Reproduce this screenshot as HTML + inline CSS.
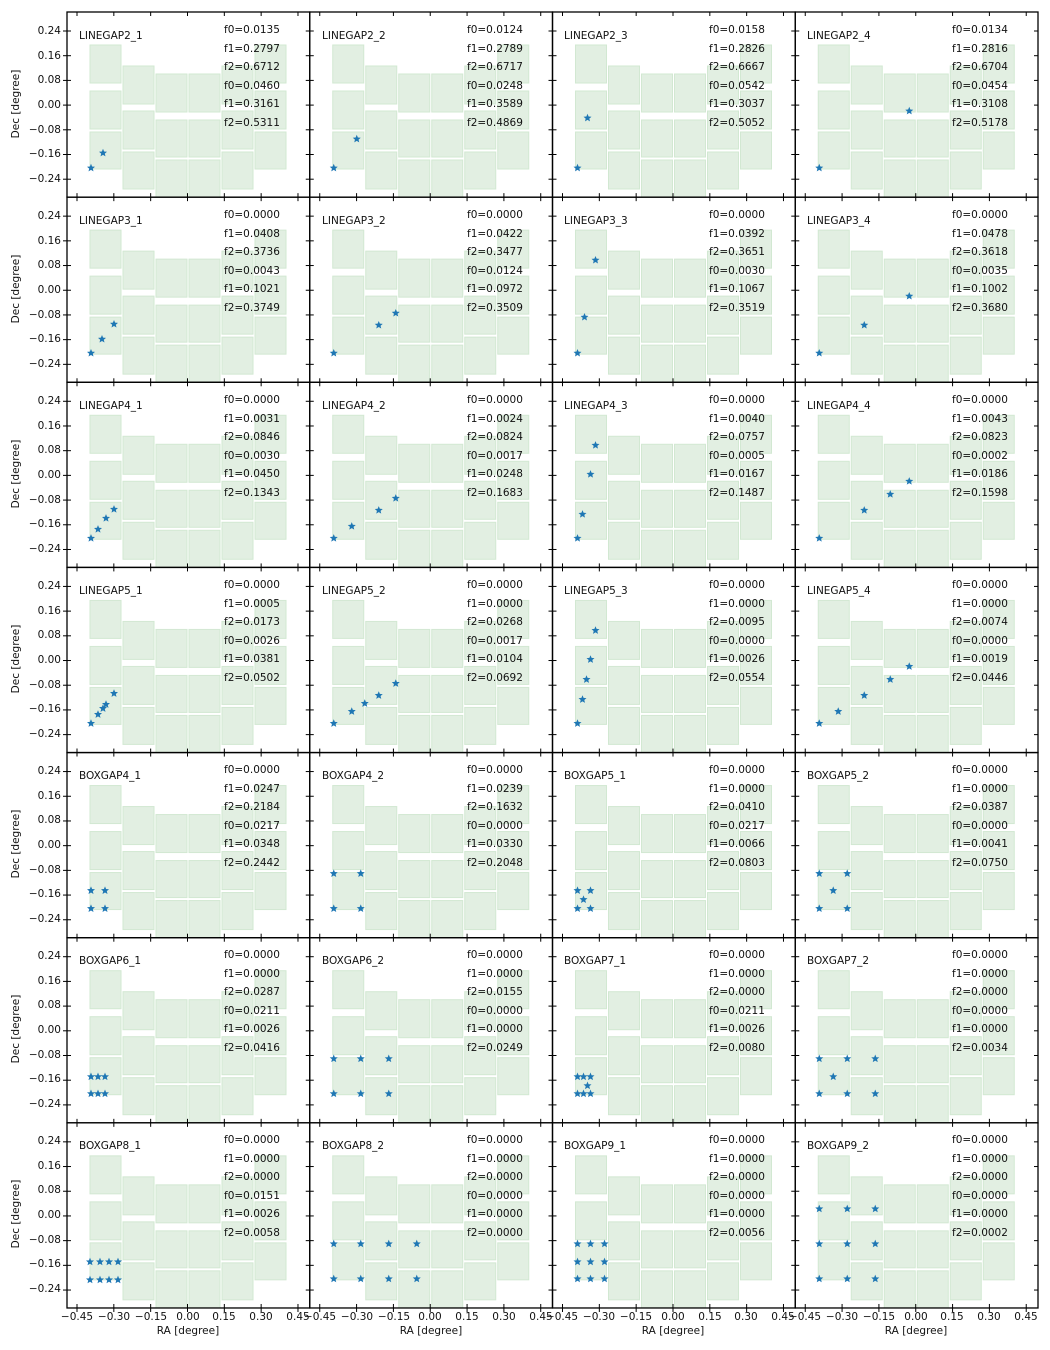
<!DOCTYPE html>
<html><head><meta charset="utf-8"><style>
body{margin:0;background:#fff;}
#w{position:relative;width:1050px;height:1350px;overflow:hidden;font-family:"DejaVu Sans","Liberation Sans",sans-serif;font-size:10.5px;color:#111;}
svg{position:absolute;left:0;top:0;}
.p{position:absolute;width:243px;height:185px;}
.n{position:absolute;left:12px;top:18px;white-space:nowrap;}
.f{position:absolute;left:157px;top:9px;line-height:18.6px;white-space:nowrap;}
.yl{position:absolute;right:989px;width:50px;text-align:right;margin-top:1px;}
.xl{position:absolute;top:1311px;width:50px;text-align:center;}
.dec{position:absolute;left:16px;transform:translate(-50%,-50%) rotate(-90deg);white-space:nowrap;}
.ra{position:absolute;top:1325px;width:120px;text-align:center;}
</style></head><body><div id="w">
<svg id="s" width="1050" height="1350"></svg>

<div class="p" style="left:67px;top:12px"><span class="n">LINEGAP2_1</span><div class="f">f0=0.0135<br>f1=0.2797<br>f2=0.6712<br>f0=0.0460<br>f1=0.3161<br>f2=0.5311</div></div>
<div class="p" style="left:310px;top:12px"><span class="n">LINEGAP2_2</span><div class="f">f0=0.0124<br>f1=0.2789<br>f2=0.6717<br>f0=0.0248<br>f1=0.3589<br>f2=0.4869</div></div>
<div class="p" style="left:552px;top:12px"><span class="n">LINEGAP2_3</span><div class="f">f0=0.0158<br>f1=0.2826<br>f2=0.6667<br>f0=0.0542<br>f1=0.3037<br>f2=0.5052</div></div>
<div class="p" style="left:795px;top:12px"><span class="n">LINEGAP2_4</span><div class="f">f0=0.0134<br>f1=0.2816<br>f2=0.6704<br>f0=0.0454<br>f1=0.3108<br>f2=0.5178</div></div>

<div class="p" style="left:67px;top:197px"><span class="n">LINEGAP3_1</span><div class="f">f0=0.0000<br>f1=0.0408<br>f2=0.3736<br>f0=0.0043<br>f1=0.1021<br>f2=0.3749</div></div>
<div class="p" style="left:310px;top:197px"><span class="n">LINEGAP3_2</span><div class="f">f0=0.0000<br>f1=0.0422<br>f2=0.3477<br>f0=0.0124<br>f1=0.0972<br>f2=0.3509</div></div>
<div class="p" style="left:552px;top:197px"><span class="n">LINEGAP3_3</span><div class="f">f0=0.0000<br>f1=0.0392<br>f2=0.3651<br>f0=0.0030<br>f1=0.1067<br>f2=0.3519</div></div>
<div class="p" style="left:795px;top:197px"><span class="n">LINEGAP3_4</span><div class="f">f0=0.0000<br>f1=0.0478<br>f2=0.3618<br>f0=0.0035<br>f1=0.1002<br>f2=0.3680</div></div>

<div class="p" style="left:67px;top:382px"><span class="n">LINEGAP4_1</span><div class="f">f0=0.0000<br>f1=0.0031<br>f2=0.0846<br>f0=0.0030<br>f1=0.0450<br>f2=0.1343</div></div>
<div class="p" style="left:310px;top:382px"><span class="n">LINEGAP4_2</span><div class="f">f0=0.0000<br>f1=0.0024<br>f2=0.0824<br>f0=0.0017<br>f1=0.0248<br>f2=0.1683</div></div>
<div class="p" style="left:552px;top:382px"><span class="n">LINEGAP4_3</span><div class="f">f0=0.0000<br>f1=0.0040<br>f2=0.0757<br>f0=0.0005<br>f1=0.0167<br>f2=0.1487</div></div>
<div class="p" style="left:795px;top:382px"><span class="n">LINEGAP4_4</span><div class="f">f0=0.0000<br>f1=0.0043<br>f2=0.0823<br>f0=0.0002<br>f1=0.0186<br>f2=0.1598</div></div>

<div class="p" style="left:67px;top:567px"><span class="n">LINEGAP5_1</span><div class="f">f0=0.0000<br>f1=0.0005<br>f2=0.0173<br>f0=0.0026<br>f1=0.0381<br>f2=0.0502</div></div>
<div class="p" style="left:310px;top:567px"><span class="n">LINEGAP5_2</span><div class="f">f0=0.0000<br>f1=0.0000<br>f2=0.0268<br>f0=0.0017<br>f1=0.0104<br>f2=0.0692</div></div>
<div class="p" style="left:552px;top:567px"><span class="n">LINEGAP5_3</span><div class="f">f0=0.0000<br>f1=0.0000<br>f2=0.0095<br>f0=0.0000<br>f1=0.0026<br>f2=0.0554</div></div>
<div class="p" style="left:795px;top:567px"><span class="n">LINEGAP5_4</span><div class="f">f0=0.0000<br>f1=0.0000<br>f2=0.0074<br>f0=0.0000<br>f1=0.0019<br>f2=0.0446</div></div>

<div class="p" style="left:67px;top:752px"><span class="n">BOXGAP4_1</span><div class="f">f0=0.0000<br>f1=0.0247<br>f2=0.2184<br>f0=0.0217<br>f1=0.0348<br>f2=0.2442</div></div>
<div class="p" style="left:310px;top:752px"><span class="n">BOXGAP4_2</span><div class="f">f0=0.0000<br>f1=0.0239<br>f2=0.1632<br>f0=0.0000<br>f1=0.0330<br>f2=0.2048</div></div>
<div class="p" style="left:552px;top:752px"><span class="n">BOXGAP5_1</span><div class="f">f0=0.0000<br>f1=0.0000<br>f2=0.0410<br>f0=0.0217<br>f1=0.0066<br>f2=0.0803</div></div>
<div class="p" style="left:795px;top:752px"><span class="n">BOXGAP5_2</span><div class="f">f0=0.0000<br>f1=0.0000<br>f2=0.0387<br>f0=0.0000<br>f1=0.0041<br>f2=0.0750</div></div>

<div class="p" style="left:67px;top:937px"><span class="n">BOXGAP6_1</span><div class="f">f0=0.0000<br>f1=0.0000<br>f2=0.0287<br>f0=0.0211<br>f1=0.0026<br>f2=0.0416</div></div>
<div class="p" style="left:310px;top:937px"><span class="n">BOXGAP6_2</span><div class="f">f0=0.0000<br>f1=0.0000<br>f2=0.0155<br>f0=0.0000<br>f1=0.0000<br>f2=0.0249</div></div>
<div class="p" style="left:552px;top:937px"><span class="n">BOXGAP7_1</span><div class="f">f0=0.0000<br>f1=0.0000<br>f2=0.0000<br>f0=0.0211<br>f1=0.0026<br>f2=0.0080</div></div>
<div class="p" style="left:795px;top:937px"><span class="n">BOXGAP7_2</span><div class="f">f0=0.0000<br>f1=0.0000<br>f2=0.0000<br>f0=0.0000<br>f1=0.0000<br>f2=0.0034</div></div>

<div class="p" style="left:67px;top:1122px"><span class="n">BOXGAP8_1</span><div class="f">f0=0.0000<br>f1=0.0000<br>f2=0.0000<br>f0=0.0151<br>f1=0.0026<br>f2=0.0058</div></div>
<div class="p" style="left:310px;top:1122px"><span class="n">BOXGAP8_2</span><div class="f">f0=0.0000<br>f1=0.0000<br>f2=0.0000<br>f0=0.0000<br>f1=0.0000<br>f2=0.0000</div></div>
<div class="p" style="left:552px;top:1122px"><span class="n">BOXGAP9_1</span><div class="f">f0=0.0000<br>f1=0.0000<br>f2=0.0000<br>f0=0.0000<br>f1=0.0000<br>f2=0.0056</div></div>
<div class="p" style="left:795px;top:1122px"><span class="n">BOXGAP9_2</span><div class="f">f0=0.0000<br>f1=0.0000<br>f2=0.0000<br>f0=0.0000<br>f1=0.0000<br>f2=0.0002</div></div>

<!-- y labels -->
<div class="yl" style="top:24px">0.24</div><div class="yl" style="top:49px">0.16</div><div class="yl" style="top:73px">0.08</div><div class="yl" style="top:98px">0.00</div><div class="yl" style="top:123px">−0.08</div><div class="yl" style="top:147px">−0.16</div><div class="yl" style="top:172px">−0.24</div>
<div class="yl" style="top:209px">0.24</div><div class="yl" style="top:234px">0.16</div><div class="yl" style="top:258px">0.08</div><div class="yl" style="top:283px">0.00</div><div class="yl" style="top:308px">−0.08</div><div class="yl" style="top:332px">−0.16</div><div class="yl" style="top:357px">−0.24</div>
<div class="yl" style="top:394px">0.24</div><div class="yl" style="top:419px">0.16</div><div class="yl" style="top:443px">0.08</div><div class="yl" style="top:468px">0.00</div><div class="yl" style="top:493px">−0.08</div><div class="yl" style="top:517px">−0.16</div><div class="yl" style="top:542px">−0.24</div>
<div class="yl" style="top:579px">0.24</div><div class="yl" style="top:604px">0.16</div><div class="yl" style="top:628px">0.08</div><div class="yl" style="top:653px">0.00</div><div class="yl" style="top:678px">−0.08</div><div class="yl" style="top:702px">−0.16</div><div class="yl" style="top:727px">−0.24</div>
<div class="yl" style="top:764px">0.24</div><div class="yl" style="top:789px">0.16</div><div class="yl" style="top:813px">0.08</div><div class="yl" style="top:838px">0.00</div><div class="yl" style="top:863px">−0.08</div><div class="yl" style="top:887px">−0.16</div><div class="yl" style="top:912px">−0.24</div>
<div class="yl" style="top:949px">0.24</div><div class="yl" style="top:974px">0.16</div><div class="yl" style="top:998px">0.08</div><div class="yl" style="top:1023px">0.00</div><div class="yl" style="top:1048px">−0.08</div><div class="yl" style="top:1072px">−0.16</div><div class="yl" style="top:1097px">−0.24</div>
<div class="yl" style="top:1134px">0.24</div><div class="yl" style="top:1159px">0.16</div><div class="yl" style="top:1183px">0.08</div><div class="yl" style="top:1208px">0.00</div><div class="yl" style="top:1233px">−0.08</div><div class="yl" style="top:1257px">−0.16</div><div class="yl" style="top:1282px">−0.24</div>

<div class="dec" style="top:104px">Dec [degree]</div>
<div class="dec" style="top:289px">Dec [degree]</div>
<div class="dec" style="top:474px">Dec [degree]</div>
<div class="dec" style="top:659px">Dec [degree]</div>
<div class="dec" style="top:844px">Dec [degree]</div>
<div class="dec" style="top:1029px">Dec [degree]</div>
<div class="dec" style="top:1214px">Dec [degree]</div>

<!-- x labels -->
<div class="xl" style="left:52px">−0.45</div><div class="xl" style="left:89px">−0.30</div><div class="xl" style="left:126px">−0.15</div><div class="xl" style="left:163px">0.00</div><div class="xl" style="left:199px">0.15</div><div class="xl" style="left:236px">0.30</div><div class="xl" style="left:273px">0.45</div>
<div class="xl" style="left:295px">−0.45</div><div class="xl" style="left:332px">−0.30</div><div class="xl" style="left:369px">−0.15</div><div class="xl" style="left:405px">0.00</div><div class="xl" style="left:442px">0.15</div><div class="xl" style="left:479px">0.30</div><div class="xl" style="left:516px">0.45</div>
<div class="xl" style="left:537px">−0.45</div><div class="xl" style="left:574px">−0.30</div><div class="xl" style="left:611px">−0.15</div><div class="xl" style="left:648px">0.00</div><div class="xl" style="left:685px">0.15</div><div class="xl" style="left:721px">0.30</div><div class="xl" style="left:758px">0.45</div>
<div class="xl" style="left:780px">−0.45</div><div class="xl" style="left:817px">−0.30</div><div class="xl" style="left:854px">−0.15</div><div class="xl" style="left:891px">0.00</div><div class="xl" style="left:927px">0.15</div><div class="xl" style="left:964px">0.30</div><div class="xl" style="left:1001px">0.45</div>
<div class="ra" style="left:128px">RA [degree]</div>
<div class="ra" style="left:371px">RA [degree]</div>
<div class="ra" style="left:613px">RA [degree]</div>
<div class="ra" style="left:856px">RA [degree]</div>

<script>
(function(){
var s=document.getElementById('s'),h='';
var X0=[67,309.75,552.5,795.25],W=242.75,H=185.14;
var cols=[[23,54,[[33,71],[79,117],[120,157]]],[56,87,[[54,92],[99,137],[140,177]]],[89,120,[[62,100],[108,145],[148,200]]],[122,153,[[62,100],[108,145],[148,200]]],[155,186,[[54,92],[99,137],[140,177]]],[188,219,[[33,71],[79,117],[120,157]]]];
var st=[
[[24,156],[36,141]],[[24,156],[47,127]],[[25,156],[35,106]],[[24,156],[114,99]],
[[24,156],[35,142],[47,127]],[[24,156],[69,128],[86,116]],[[25,156],[32,120],[43,63]],[[24,156],[69,128],[114,99]],
[[24,156],[31,147],[39,136],[47,127]],[[24,156],[42,144],[69,128],[86,116]],[[25,156],[30,132],[38,92],[43,63]],[[24,156],[69,128],[95,112],[114,99]],
[[24,156],[31,147],[36,141],[39,137],[47,126]],[[24,156],[42,144],[55,136],[69,128],[86,116]],[[25,156],[30,132],[34,112],[38,92],[43,63]],[[24,156],[43,144],[69,128],[95,112],[114,99]],
[[24,138],[38,138],[24,156],[38,156]],[[24,121],[51,121],[24,156],[51,156]],[[25,138],[38,138],[31,147],[25,156],[38,156]],[[24,121],[52,121],[38,138],[24,156],[52,156]],
[[24,139],[31,139],[38,139],[24,156],[31,156],[38,156]],[[24,121],[51,121],[79,121],[24,156],[51,156],[79,156]],[[25,139],[31,139],[38,139],[35,148],[25,156],[31,156],[38,156]],[[24,121],[52,121],[80,121],[38,139],[24,156],[52,156],[80,156]],
[],[],[],[]];
var r7=[[],[],[],[]];
[23,33,42,51].forEach(function(x){r7[0].push([x,139],[x,157]);});
[24,51,79,107].forEach(function(x){r7[1].push([x,121],[x,156]);});
[25,38,52].forEach(function(x){[121,139,156].forEach(function(y){r7[2].push([x,y]);});});
[24,52,80].forEach(function(x){[86,121,156].forEach(function(y){r7[3].push([x,y]);});});
for(var k=0;k<4;k++)st[24+k]=r7[k];
function star(cx,cy){var p=[];for(var i=0;i<10;i++){var r=i%2?1.9:4.2,a=-Math.PI/2+i*Math.PI/5;p.push((cx+r*Math.cos(a)).toFixed(1)+','+(cy+r*Math.sin(a)).toFixed(1));}return '<polygon points="'+p.join(' ')+'" fill="#1f77b4"/>';}
h+='<defs><clipPath id="c"><rect x="0" y="0" width="'+W+'" height="'+H+'"/></clipPath></defs>';
for(var j=0;j<7;j++)for(var i=0;i<4;i++){
 var x0=X0[i],y0=12+H*j;
 h+='<g transform="translate('+x0+','+y0+')"><g clip-path="url(#c)">';
 cols.forEach(function(c){c[2].forEach(function(r){h+='<rect x="'+c[0]+'" y="'+r[0]+'" width="'+(c[1]-c[0])+'" height="'+(r[1]-r[0])+'" fill="#e2efe2" stroke="#d2e8d2" stroke-width="1"/>';});});
 h+='</g>';
 st[j*4+i].forEach(function(p){h+=star(p[0],p[1]);});
 for(var t=0;t<7;t++){var tx=10+36.83*t,ty=19+24.7*t;
  h+='<line x1="'+tx+'" y1="0" x2="'+tx+'" y2="4" stroke="#000"/><line x1="'+tx+'" y1="'+H+'" x2="'+tx+'" y2="'+(H-4)+'" stroke="#000"/>';
  h+='<line x1="0" y1="'+ty+'" x2="4" y2="'+ty+'" stroke="#000"/><line x1="'+W+'" y1="'+ty+'" x2="'+(W-4)+'" y2="'+ty+'" stroke="#000"/>';
  if(i==0)h+='<line x1="0" y1="'+ty+'" x2="-4" y2="'+ty+'" stroke="#000"/>';
  if(j==6)h+='<line x1="'+tx+'" y1="'+H+'" x2="'+tx+'" y2="'+(H+4)+'" stroke="#000"/>';
 }
 h+='<rect x="0" y="0" width="'+W+'" height="'+H+'" fill="none" stroke="#000" stroke-width="1.3"/></g>';
}
s.innerHTML=h;
})();
</script>
</div></body></html>
